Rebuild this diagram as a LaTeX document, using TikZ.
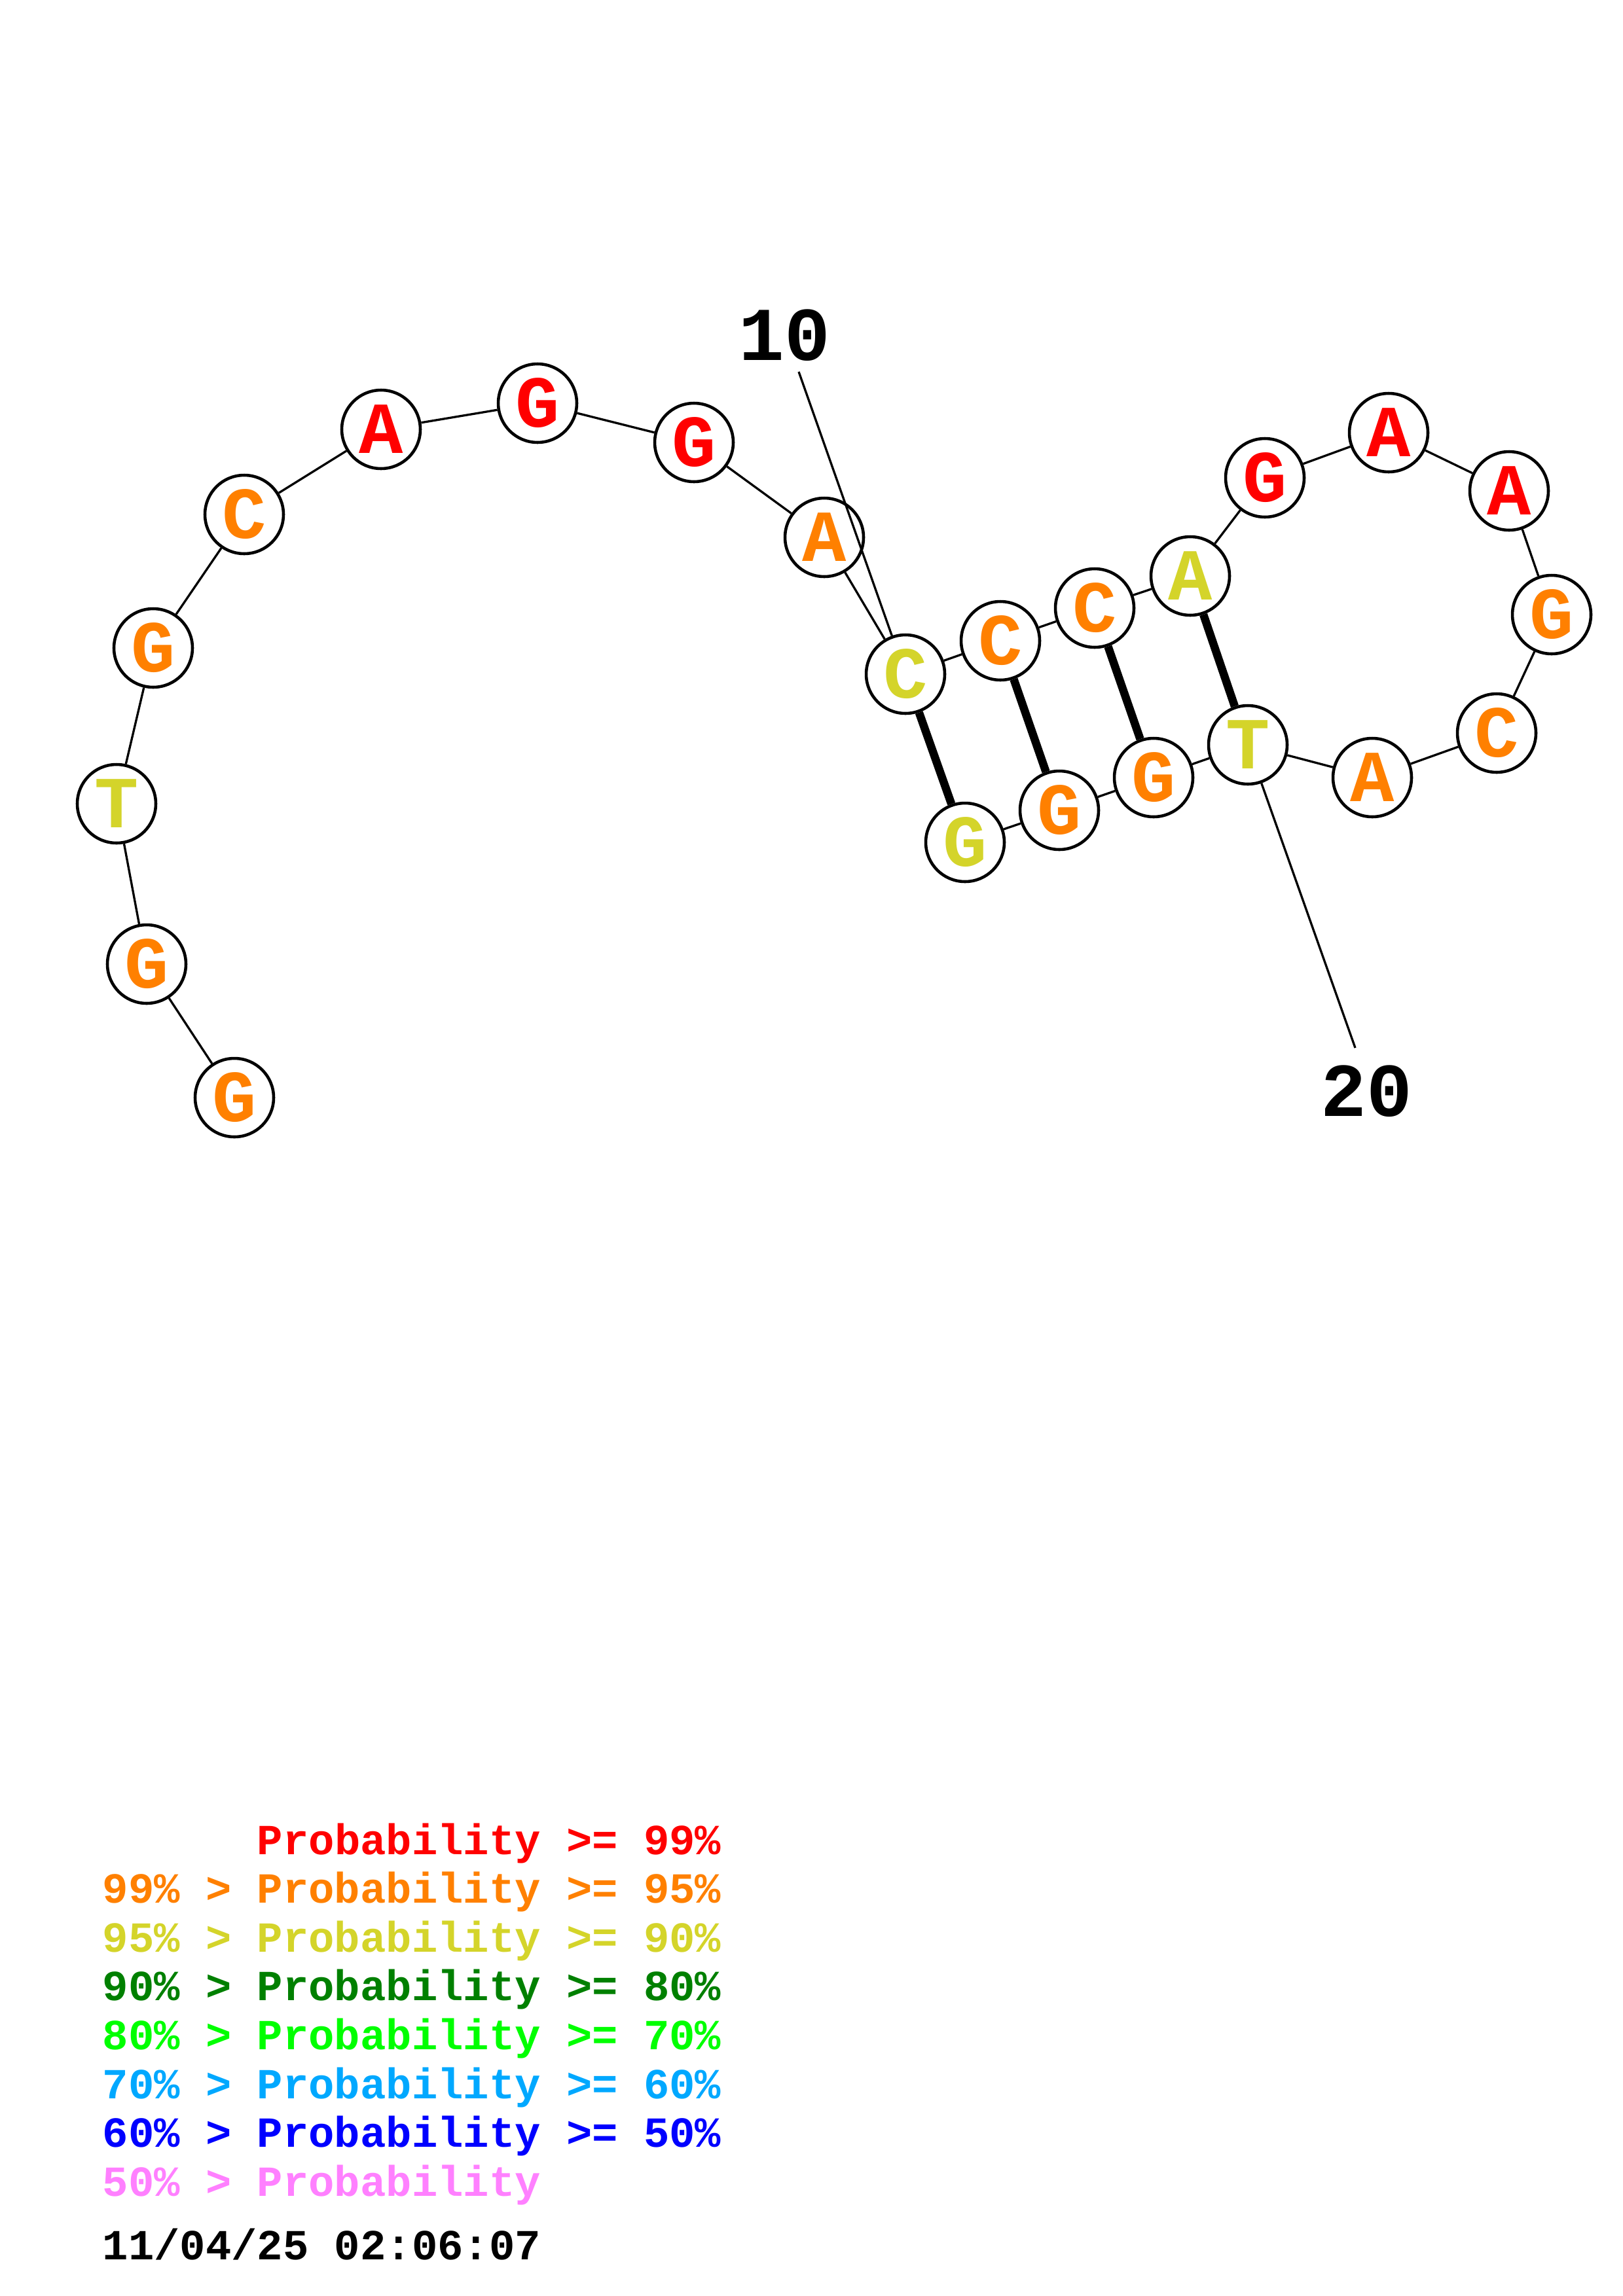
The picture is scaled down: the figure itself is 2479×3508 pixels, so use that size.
\documentclass[tikz,border=0pt]{standalone}
\usepackage{fontspec}
\setmonofont{Liberation Mono}
\definecolor{prred}{RGB}{255,0,0}
\definecolor{prorange}{RGB}{255,128,0}
\definecolor{pryellow}{RGB}{212,212,42}
\definecolor{prdkgreen}{RGB}{0,128,0}
\definecolor{prgreen}{RGB}{0,255,0}
\definecolor{prsky}{RGB}{0,168,255}
\definecolor{prblue}{RGB}{0,0,255}
\definecolor{prpink}{RGB}{255,128,255}
\tikzset{
  nuc/.style={circle, draw=black, line width=1.1pt, fill=white, minimum size=28.9pt, inner sep=0pt,
    font=\ttfamily\bfseries\fontsize{27}{27}\selectfont},
  bbone/.style={black, line width=0.8pt},
  bpair/.style={black, line width=3pt},
  numlab/.style={inner sep=0pt, font=\ttfamily\bfseries\fontsize{28}{28}\selectfont},
  legline/.style={anchor=base west, inner sep=0pt, font=\ttfamily\bfseries\fontsize{15.8}{16}\selectfont},
}
\begin{document}
\begin{tikzpicture}[x=0.2409pt, y=-0.2409pt]
\useasboundingbox (0,0) rectangle (2479,3508);
% nucleotides
\foreach \n/\x/\y/\b/\c in {1/358/1677/G/prorange, 2/224/1473/G/prorange, 3/178/1228/T/pryellow,
  4/234/990/G/prorange, 5/373/786/C/prorange, 6/582/656/A/prred, 7/821/616/G/prred,
  8/1060/676/G/prred, 9/1259/821/A/prorange, 10/1383/1030/C/pryellow, 11/1528/979/C/prorange,
  12/1672/929/C/prorange, 13/1818/880/A/pryellow, 14/1932/730/G/prred, 15/2121/661/A/prred,
  16/2305/750/A/prred, 17/2370/939/G/prorange, 18/2286/1120/C/prorange, 19/2096/1188/A/prorange,
  20/1906/1138/T/pryellow, 21/1762/1188/G/prorange, 22/1618/1238/G/prorange, 23/1474/1287/G/pryellow}
  \node[nuc, text=\c] (n\n) at (\x,\y) {\b};
% backbone
\foreach \i in {1,...,22} {
  \pgfmathtruncatemacro\j{\i+1}
  \draw[bbone] (n\i) -- (n\j);
}
% base pairs
\foreach \a/\b in {10/23, 11/22, 12/21, 13/20}
  \draw[bpair] (n\a) -- (n\b);
% position labels
\node[numlab] (lab10) at (1198,512) {10};
\coordinate (t10) at (1220,568);
\draw[bbone] (t10) -- (n10);
\node[numlab] (lab20) at (2087,1667) {20};
\coordinate (t20) at (2070,1601);
\draw[bbone] (n20) -- (t20);
% legend
\node[legline, text=prred] (leg1) at (156,2833) {\phantom{99\% > }Probability >= 99\%};
\foreach \i/\y/\c/\t in {2/2907/prorange/99\% > Probability >= 95\%,
  3/2982/pryellow/95\% > Probability >= 90\%, 4/3056/prdkgreen/90\% > Probability >= 80\%,
  5/3131/prgreen/80\% > Probability >= 70\%, 6/3206/prsky/70\% > Probability >= 60\%,
  7/3280/prblue/60\% > Probability >= 50\%, 8/3355/prpink/50\% > Probability}
  \node[legline, text=\c] (leg\i) at (156,\y) {\t};
\node[legline, text=black] (date) at (156,3452) {11/04/25 02:06:07};
\end{tikzpicture}
\end{document}
